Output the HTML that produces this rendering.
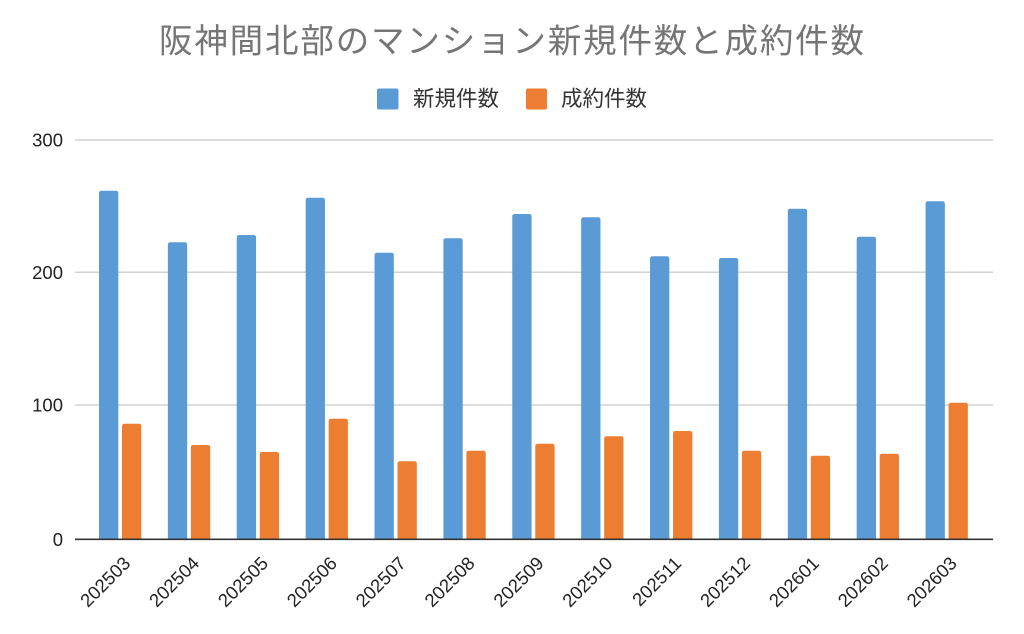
<!DOCTYPE html>
<html><head><meta charset="utf-8"><style>
html,body{margin:0;padding:0;background:#fff;}
svg{display:block;}
</style></head><body>
<svg width="1024" height="634" viewBox="0 0 1024 634" xmlns="http://www.w3.org/2000/svg">
<rect width="1024" height="634" fill="#fff"/>
<text x="159" y="42" dominant-baseline="central" font-family="'Liberation Sans','Noto Sans CJK JP',sans-serif" font-size="33.5" fill="#757575" textLength="705" lengthAdjust="spacing">阪神間北部のマンション新規件数と成約件数</text>
<rect x="377" y="88.5" width="21.5" height="21" rx="2" fill="#5b9bd5"/>
<text x="413" y="99" dominant-baseline="central" font-family="'Liberation Sans','Noto Sans CJK JP',sans-serif" font-size="21.5" fill="#333" textLength="86" lengthAdjust="spacing">新規件数</text>
<rect x="526" y="88.5" width="21" height="21" rx="2" fill="#ed7d31"/>
<text x="561" y="99" dominant-baseline="central" font-family="'Liberation Sans','Noto Sans CJK JP',sans-serif" font-size="21.5" fill="#333" textLength="86" lengthAdjust="spacing">成約件数</text>
<g stroke="#d2d2d2" stroke-width="1.5">
<line x1="75" x2="993" y1="140" y2="140"/>
<line x1="75" x2="993" y1="272.3" y2="272.3"/>
<line x1="75" x2="993" y1="405" y2="405"/>
</g>
<g font-family="'Liberation Sans',sans-serif" font-size="18.5" fill="#222" text-anchor="end">
<text x="63" y="146.5">300</text>
<text x="63" y="278.8">200</text>
<text x="63" y="411.5">100</text>
<text x="63" y="545.8">0</text>
</g>
<g id="bars"></g>
<line x1="75" x2="993" y1="539.3" y2="539.3" stroke="#333" stroke-width="1.6"/>
<g id="xl" font-family="'Liberation Sans',sans-serif" font-size="18.5" fill="#222" text-anchor="end"></g>
<script>
(function(){
var ns="http://www.w3.org/2000/svg";
var bt=[190.7,242.3,235,197.7,252.7,238.3,214,217.3,256.3,258,208.7,236.7,201.3];
var ot=[423.7,445,452,418.7,461.3,450.7,443.7,436.3,431,450.7,455.7,453.7,402.7];
var labels=["202503","202504","202505","202506","202507","202508","202509","202510","202511","202512","202601","202602","202603"];
var g=document.getElementById("bars"),xl=document.getElementById("xl");
function bar(x,top,w,c){var b=539.3,r=2.5;var p=document.createElementNS(ns,"path");
p.setAttribute("d","M"+x+","+b+"V"+(top+r)+"Q"+x+","+top+" "+(x+r)+","+top+"H"+(x+w-r)+"Q"+(x+w)+","+top+" "+(x+w)+","+(top+r)+"V"+b+"Z");
p.setAttribute("fill",c);g.appendChild(p);}
for(var i=0;i<13;i++){var x=99+68.88*i;bar(x,bt[i],19.3,"#5b9bd5");bar(x+23,ot[i],19.3,"#ed7d31");
var cx=120+68.88*i+11.5,cy=564.5;var t=document.createElementNS(ns,"text");t.setAttribute("x",cx);t.setAttribute("y",cy);
t.setAttribute("transform","rotate(-45 "+cx+" "+cy+")");t.textContent=labels[i];xl.appendChild(t);}
})();
</script>
</svg>
</body></html>
